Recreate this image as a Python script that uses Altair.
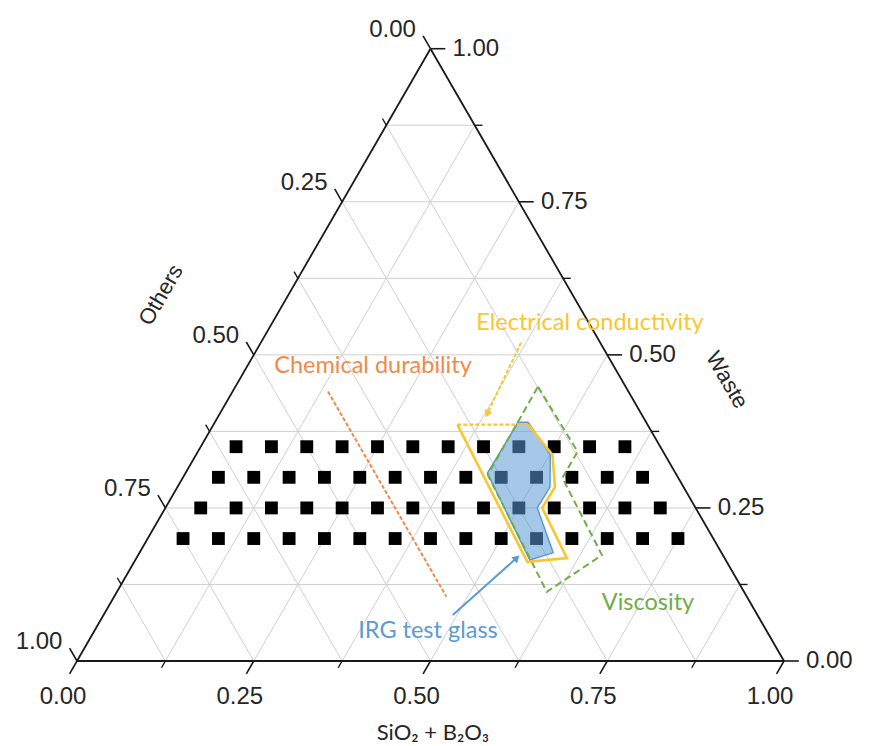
import altair as alt
import numpy as np
import pandas as pd

# ---------------- values ----------------
major_ticks = [0.0, 0.25, 0.5, 0.75, 1.0]
minor_ticks = [0.125, 0.375, 0.625, 0.875]
grid_levels = [0.125, 0.25, 0.375, 0.5, 0.625, 0.75, 0.875]
tick_labels = ["0.00", "0.25", "0.50", "0.75", "1.00"]

waste_row_1 = 0.35
silica_row_1 = [0.05, 0.10, 0.15, 0.20, 0.25, 0.30, 0.35, 0.40, 0.45, 0.50, 0.55, 0.60]
waste_row_2 = 0.30
silica_row_2 = [0.05, 0.10, 0.15, 0.20, 0.25, 0.30, 0.35, 0.40, 0.45, 0.50, 0.55, 0.60, 0.65]
waste_row_3 = 0.25
silica_row_3 = [0.05, 0.10, 0.15, 0.20, 0.25, 0.30, 0.35, 0.40, 0.45, 0.50, 0.55, 0.60, 0.65, 0.70]
waste_row_4 = 0.20
silica_row_4 = [0.05, 0.10, 0.15, 0.20, 0.25, 0.30, 0.35, 0.40, 0.45, 0.50, 0.55, 0.60, 0.65, 0.70, 0.75]

# IRG test glass region (SiO2+B2O3 fraction, waste fraction)
irg_silica = [0.429, 0.443, 0.501, 0.527, 0.526, 0.585, 0.558, 0.427, 0.429]
irg_waste = [0.390, 0.390, 0.337, 0.284, 0.250, 0.177, 0.165, 0.307, 0.390]

# Electrical conductivity boundary (solid part, then dashed top edge)
cond_silica = [0.445, 0.504, 0.534, 0.533, 0.609, 0.556, 0.345]
cond_waste = [0.386, 0.337, 0.284, 0.250, 0.168, 0.162, 0.386]
cond_top_silica = [0.345, 0.445]
cond_top_waste = [0.386, 0.386]

# Viscosity boundary
visc_silica = [0.428, 0.537, 0.537, 0.656, 0.608, 0.429, 0.428]
visc_waste = [0.448, 0.342, 0.299, 0.173, 0.113, 0.304, 0.448]

# Chemical durability limit
dura_silica = [0.135, 0.470]
dura_waste = [0.440, 0.105]

# arrows (tail, head)
cond_arrow_silica = [0.368, 0.379]
cond_arrow_waste = [0.520, 0.397]
irg_arrow_silica = [0.494, 0.540]
irg_arrow_waste = [0.075, 0.173]

annotations = ["Electrical conductivity", "Chemical durability", "Viscosity", "IRG test glass"]

# ---------------- styles ----------------
YELLOW = "#F9C630"
ORANGE = "#F08A4B"
GREEN = "#70AD47"
BLUE = "#5B9BD5"
GRID = "#CFCFCF"
INK = "#262626"
TICK_FONT = "Liberation Sans"
NOTE_FONT = "Lato"

SQ = np.sqrt(3) / 2


def tern(s, w):
    s = np.asarray(s, dtype=float)
    w = np.asarray(w, dtype=float)
    return s + w / 2, w * SQ


W_PX, H_PX = 856, 738
X0, X1 = -69 / 707, (W_PX - 69) / 707
Y0, Y1 = (653 - H_PX) / 707, 653 / 707
xs = alt.Scale(domain=[X0, X1], nice=False, zero=False)
ys = alt.Scale(domain=[Y0, Y1], nice=False, zero=False)


def segs(p1s, p1w, p2s, p2w):
    x1, y1 = tern(p1s, p1w)
    x2, y2 = tern(p2s, p2w)
    return pd.DataFrame({"x": x1, "y": y1, "x2": x2, "y2": y2})


def rule_chart(df, **mark):
    return alt.Chart(df).mark_rule(**mark).encode(
        x=alt.X("x:Q", scale=xs, axis=None),
        y=alt.Y("y:Q", scale=ys, axis=None),
        x2="x2:Q",
        y2="y2:Q",
    )


def path_df(s, w):
    x, y = tern(s, w)
    return pd.DataFrame({"x": x, "y": y, "i": np.arange(len(x))})


def path_chart(df, **mark):
    return alt.Chart(df).mark_line(**mark).encode(
        x=alt.X("x:Q", scale=xs, axis=None),
        y=alt.Y("y:Q", scale=ys, axis=None),
        order="i:Q",
    )


g = np.array(grid_levels)
zeros = np.zeros_like(g)
grid_df = pd.concat([
    segs(zeros, g, 1 - g, g),          # constant waste
    segs(g, zeros, g, 1 - g),          # constant SiO2+B2O3
    segs(1 - g, zeros, zeros, 1 - g),  # constant others
])
grid = rule_chart(grid_df, color=GRID, strokeWidth=1)

frame = rule_chart(segs([0, 1, 0], [0, 0, 1], [1, 0, 0], [0, 1, 0]), color="#1a1a1a", strokeWidth=1.8)


def tick_df(vals, L):
    v = np.array(vals)
    z = np.zeros_like(v)
    bottom = segs(v, z, v, z - L)        # constant-SiO2 lines below the base
    right = segs(1 - v, v, 1 - v + L, v)  # constant-waste lines right of the edge
    left = segs(z, v, z - L, v + L)       # constant-others lines left of the edge
    return pd.concat([bottom, right, left])


ticks_major = rule_chart(tick_df(major_ticks, 0.021), color="#1a1a1a", strokeWidth=1.6)
ticks_minor = rule_chart(tick_df(minor_ticks, 0.011), color="#1a1a1a", strokeWidth=1.4)

mt = np.array(major_ticks)
bx, by = tern(mt, np.zeros_like(mt))
bottom_lab = pd.DataFrame({"x": bx, "y": by, "t": tick_labels})
rx, ry = tern(1 - mt, mt)
right_lab = pd.DataFrame({"x": rx, "y": ry, "t": tick_labels})
# left axis: others fraction o sits at S=0, W=1-o
lx, ly = tern(np.zeros_like(mt), 1 - mt)
left_lab = pd.DataFrame({"x": lx, "y": ly, "t": tick_labels})


def text_chart(df, **mark):
    return alt.Chart(df).mark_text(**mark).encode(
        x=alt.X("x:Q", scale=xs, axis=None),
        y=alt.Y("y:Q", scale=ys, axis=None),
        text="t:N",
    )


lab_b = text_chart(bottom_lab, font=TICK_FONT, fontSize=24, color=INK, align="center", baseline="middle", dx=-14, dy=36)
lab_r = text_chart(right_lab, font=TICK_FONT, fontSize=24, color=INK, align="left", baseline="middle", dx=22, dy=0)
lab_l = text_chart(left_lab, font=TICK_FONT, fontSize=24, color=INK, align="center", baseline="middle", dx=-38, dy=-19)

pts = []
for w, srow in [(waste_row_1, silica_row_1), (waste_row_2, silica_row_2),
                (waste_row_3, silica_row_3), (waste_row_4, silica_row_4)]:
    x, y = tern(srow, [w] * len(srow))
    pts.append(pd.DataFrame({"x": x, "y": y}))
pts_df = pd.concat(pts)
points = alt.Chart(pts_df).mark_square(size=165, color="black", opacity=1).encode(
    x=alt.X("x:Q", scale=xs, axis=None), y=alt.Y("y:Q", scale=ys, axis=None))

irg = path_chart(path_df(irg_silica, irg_waste), fill=BLUE, fillOpacity=0.55, stroke=BLUE, strokeWidth=1.5)
cond = path_chart(path_df(cond_silica, cond_waste), color=YELLOW, strokeWidth=2.6)
cond_top = path_chart(path_df(cond_top_silica, cond_top_waste), color=YELLOW, strokeWidth=2.2, strokeDash=[4, 2])
visc = path_chart(path_df(visc_silica, visc_waste), color=GREEN, strokeWidth=2, strokeDash=[7, 4])
dura = path_chart(path_df(dura_silica, dura_waste), color=ORANGE, strokeWidth=2, strokeDash=[4, 2])


def arrow(s, w, color, dash=None):
    x, y = tern(s, w)
    dx, dy = x[1] - x[0], y[1] - y[0]
    ln = np.hypot(dx, dy)
    shaft = pd.DataFrame({"x": [x[0]], "y": [y[0]],
                          "x2": [x[1] - dx / ln * 0.008], "y2": [y[1] - dy / ln * 0.008]})
    kw = dict(color=color, strokeWidth=2)
    if dash:
        kw["strokeDash"] = dash
    ang = (np.degrees(np.arctan2(dx, dy)) + 360) % 360
    head = pd.DataFrame({"x": [x[1] - dx / ln * 0.006], "y": [y[1] - dy / ln * 0.006], "a": [ang]})
    hc = alt.Chart(head).mark_point(shape="triangle-up", filled=True, size=70, color=color, opacity=1).encode(
        x=alt.X("x:Q", scale=xs, axis=None), y=alt.Y("y:Q", scale=ys, axis=None),
        angle=alt.Angle("a:Q", scale=None))
    return rule_chart(shaft, **kw) + hc


arr_cond = arrow(cond_arrow_silica, cond_arrow_waste, YELLOW, [4, 2])
arr_irg = arrow(irg_arrow_silica, irg_arrow_waste, BLUE)

# annotation label positions (plot units)
note_df = pd.DataFrame({
    "x": [0.7256, 0.4187, 0.8076, 0.4965],
    "y": [0.478, 0.4173, 0.082, 0.0424],
    "t": annotations,
    "c": [YELLOW, ORANGE, GREEN, BLUE],
})
notes = alt.Chart(note_df).mark_text(font=NOTE_FONT, fontSize=23.5, align="center", baseline="middle").encode(
    x=alt.X("x:Q", scale=xs, axis=None), y=alt.Y("y:Q", scale=ys, axis=None),
    text="t:N", color=alt.Color("c:N", scale=None))

title_b = text_chart(pd.DataFrame({"x": [0.5035], "y": [-0.1018], "t": ["SiO\u2082 + B\u2082O\u2083"]}),
                     font=NOTE_FONT, fontSize=22, color=INK, align="center", baseline="middle")
title_l = text_chart(pd.DataFrame({"x": [0.1188], "y": [0.5177], "t": ["Others"]}),
                     font=TICK_FONT, fontSize=22, color=INK, align="center", baseline="middle", angle=300)
title_r = text_chart(pd.DataFrame({"x": [0.9194], "y": [0.3975], "t": ["Waste"]}),
                     font=TICK_FONT, fontSize=22, color=INK, align="center", baseline="middle", angle=60)

chart = alt.layer(
    grid, frame, ticks_major, ticks_minor, lab_b, lab_r, lab_l,
    points, irg, visc, cond, cond_top, dura, arr_cond, arr_irg,
    notes, title_b, title_l, title_r,
).properties(
    width=W_PX, height=H_PX, autosize=alt.AutoSizeParams(type="none"), padding=0,
    background="white",
).configure_view(strokeWidth=0)

chart.save("out.html", embed_options={"renderer": "svg", "actions": False})
